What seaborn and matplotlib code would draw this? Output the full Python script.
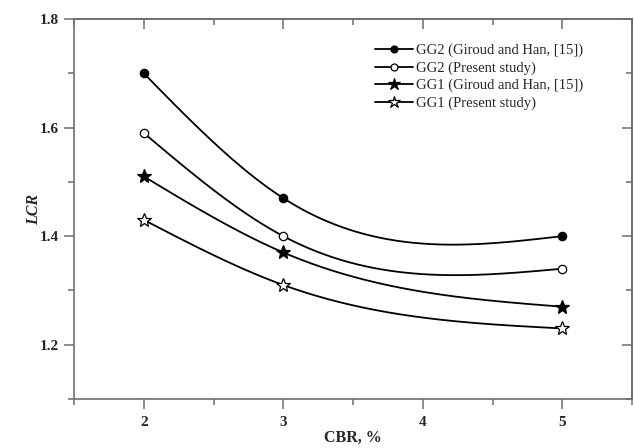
import numpy as np
import matplotlib
matplotlib.use("Agg")
import matplotlib.pyplot as plt
from matplotlib.lines import Line2D
from matplotlib.ticker import MultipleLocator
import pandas as pd
import seaborn as sns

# CBR values (%) and load carrying ratios for each geogrid series
cbr = [2, 3, 5]
gg2_giroud = [1.70, 1.47, 1.40]
gg2_present = [1.59, 1.40, 1.34]
gg1_giroud = [1.51, 1.37, 1.27]
gg1_present = [1.43, 1.31, 1.23]

series_labels = [
    "GG2 (Giroud and Han, [15])",
    "GG2 (Present study)",
    "GG1 (Giroud and Han, [15])",
    "GG1 (Present study)",
]
x_ticks = [2, 3, 4, 5]
y_ticks = [1.2, 1.4, 1.6, 1.8]


def natural_spline(x, y, xs):
    """Natural cubic spline through (x, y), evaluated at xs."""
    x = np.asarray(x, float)
    y = np.asarray(y, float)
    n = len(x)
    h = np.diff(x)
    A = np.zeros((n, n))
    b = np.zeros(n)
    A[0, 0] = A[-1, -1] = 1.0
    for i in range(1, n - 1):
        A[i, i - 1] = h[i - 1]
        A[i, i] = 2 * (h[i - 1] + h[i])
        A[i, i + 1] = h[i]
        b[i] = 6 * ((y[i + 1] - y[i]) / h[i] - (y[i] - y[i - 1]) / h[i - 1])
    M = np.linalg.solve(A, b)
    xs = np.asarray(xs, float)
    idx = np.clip(np.searchsorted(x, xs) - 1, 0, n - 2)
    x0, x1 = x[idx], x[idx + 1]
    hi = h[idx]
    return (M[idx] * (x1 - xs) ** 3 / (6 * hi)
            + M[idx + 1] * (xs - x0) ** 3 / (6 * hi)
            + (y[idx] / hi - M[idx] * hi / 6) * (x1 - xs)
            + (y[idx + 1] / hi - M[idx + 1] * hi / 6) * (xs - x0))


sns.set_style("ticks")
plt.rcParams["font.family"] = ["Liberation Serif", "DejaVu Serif"]
plt.rcParams["mathtext.fontset"] = "stix"

fig = plt.figure(figsize=(6.34, 4.48), dpi=100)
ax = fig.add_axes([74 / 634, 49 / 448, 558 / 634, 380 / 448])

spine_color = "#6e6e6e"
styles = [
    dict(marker="o", mfc="black", ms=6),
    dict(marker="o", mfc="white", ms=6),
    dict(marker="*", mfc="black", ms=10),
    dict(marker="*", mfc="white", ms=10),
]
all_series = [gg2_giroud, gg2_present, gg1_giroud, gg1_present]

xs = np.linspace(min(cbr), max(cbr), 300)
handles = []
for vals, st, lab in zip(all_series, styles, series_labels):
    curve = pd.DataFrame({"CBR": xs, "LCR": natural_spline(cbr, vals, xs)})
    sns.lineplot(data=curve, x="CBR", y="LCR", ax=ax, color="black", lw=1.3,
                 legend=False)
    pts = pd.DataFrame({"CBR": cbr, "LCR": vals})
    ax.plot(pts["CBR"], pts["LCR"], ls="none", marker=st["marker"],
            mfc=st["mfc"], mec="black", mew=0.9, ms=st["ms"], zorder=3)
    handles.append(Line2D([], [], color="black", lw=1.3, marker=st["marker"],
                          mfc=st["mfc"], mec="black", mew=0.9,
                          ms=st["ms"] - 1, label=lab))

ax.set_xlim(1.5, 5.5)
ax.set_ylim(1.1, 1.8)
ax.set_xticks(x_ticks)
ax.set_yticks(y_ticks)
ax.set_xticklabels([str(v) for v in x_ticks])
ax.set_yticklabels([f"{v:.1f}" for v in y_ticks])
ax.xaxis.set_minor_locator(MultipleLocator(0.5))
ax.yaxis.set_minor_locator(MultipleLocator(0.1))

for sp in ax.spines.values():
    sp.set_visible(True)
    sp.set_color(spine_color)
    sp.set_linewidth(1.2)

ax.tick_params(which="major", direction="out", length=7, width=1.1,
               color=spine_color, labelsize=11, pad=5)
ax.tick_params(axis="y", which="major", pad=4)
ax.tick_params(which="minor", direction="out", length=4, width=1.1,
               color=spine_color)
for lab in ax.get_xticklabels() + ax.get_yticklabels():
    lab.set_fontweight("bold")

# mirrored ticks on the top and right edges, pointing into the plot
top = ax.secondary_xaxis("top")
top.set_xticks(x_ticks)
top.xaxis.set_minor_locator(MultipleLocator(0.5))
top.tick_params(which="major", direction="in", length=7, width=1.1,
                color=spine_color, labeltop=False)
top.tick_params(which="minor", direction="in", length=4, width=1.1,
                color=spine_color)
top.spines["top"].set_color(spine_color)
top.spines["top"].set_linewidth(1.2)

right = ax.secondary_yaxis("right")
right.set_yticks(y_ticks)
right.yaxis.set_minor_locator(MultipleLocator(0.1))
right.tick_params(which="major", direction="in", length=7, width=1.1,
                  color=spine_color, labelright=False)
right.tick_params(which="minor", direction="in", length=4, width=1.1,
                  color=spine_color)
right.spines["right"].set_color(spine_color)
right.spines["right"].set_linewidth(1.2)

ax.set_xlabel("CBR, %", fontsize=11.5, fontweight="bold", labelpad=1)
ax.set_ylabel("LCR", fontsize=11.5, fontweight="bold", style="italic",
              labelpad=-2)

ax.legend(handles=handles, loc="upper right", bbox_to_anchor=(0.923, 0.95),
          frameon=False, fontsize=10.5, handlelength=2.6, handletextpad=0.2,
          labelspacing=0.28, borderaxespad=0)

fig.savefig("out.png", dpi=100)
